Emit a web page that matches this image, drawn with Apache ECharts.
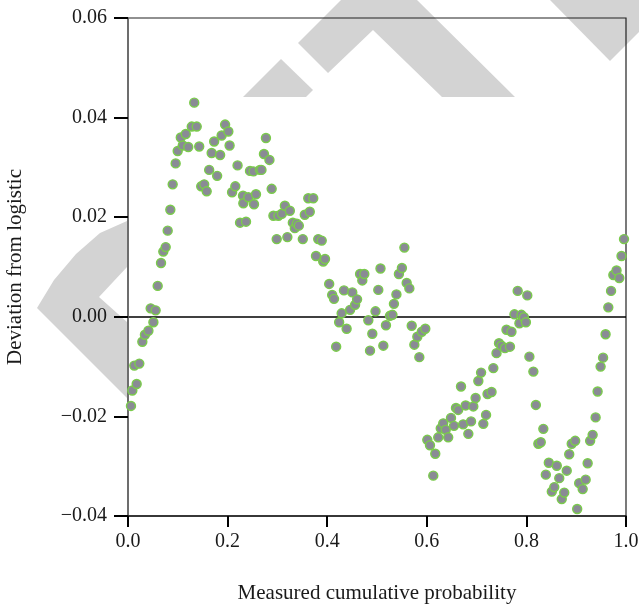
<!DOCTYPE html>
<html>
<head>
<meta charset="utf-8">
<script src="https://cdn.jsdelivr.net/npm/echarts@6/dist/echarts.min.js"></script>
<style>
  html, body { margin: 0; padding: 0; background: #fff; }
  #chart { width: 639px; height: 605px; }
</style>
</head>
<body>
<div id="chart"></div>
<script>
// measured cumulative probability (x) and deviation from logistic (y)
var probX = [
  0.006, 0.0087, 0.0127, 0.0174, 0.0227, 0.0288, 0.034, 0.041, 0.0455, 0.051,
  0.0555, 0.0596, 0.0663, 0.0709, 0.0757, 0.0797, 0.085, 0.0897, 0.0957, 0.0998,
  0.106, 0.110, 0.116, 0.121, 0.128, 0.133, 0.138, 0.143, 0.147, 0.153,
  0.158, 0.163, 0.168, 0.173, 0.179, 0.185, 0.188, 0.195, 0.2015, 0.204,
  0.209, 0.2155, 0.220, 0.225, 0.231, 0.2316, 0.237, 0.2416, 0.245, 0.252,
  0.253, 0.257, 0.265, 0.268, 0.273, 0.277, 0.284, 0.2885, 0.292, 0.2986,
  0.302, 0.309, 0.315, 0.320, 0.325, 0.331, 0.335, 0.339, 0.343, 0.351,
  0.355, 0.362, 0.365, 0.372, 0.3775, 0.382, 0.389, 0.392, 0.3956, 0.404,
  0.410, 0.4137, 0.418, 0.424, 0.429, 0.4337, 0.439, 0.446, 0.4504, 0.456,
  0.460, 0.466, 0.4705, 0.4745, 0.4826, 0.486, 0.4906, 0.497, 0.5026, 0.507,
  0.5127, 0.518, 0.526, 0.531, 0.534, 0.539, 0.544, 0.550, 0.555, 0.5596,
  0.565, 0.5697, 0.575, 0.581, 0.585, 0.590, 0.597, 0.601, 0.6064, 0.613,
  0.617, 0.623, 0.628, 0.633, 0.638, 0.643, 0.6486, 0.6546, 0.6586, 0.663,
  0.6687, 0.673, 0.678, 0.6834, 0.6888, 0.6934, 0.698, 0.7035, 0.709, 0.7135,
  0.719, 0.722, 0.730, 0.7336, 0.740, 0.745, 0.750, 0.757, 0.760, 0.767,
  0.770, 0.776, 0.7825, 0.786, 0.790, 0.795, 0.799, 0.8018, 0.806, 0.814,
  0.819, 0.824, 0.8288, 0.834, 0.839, 0.845, 0.851, 0.856, 0.861, 0.866,
  0.871, 0.876, 0.881, 0.886, 0.891, 0.898, 0.902, 0.906, 0.913, 0.919,
  0.923, 0.928, 0.933, 0.939, 0.943, 0.949, 0.954, 0.959, 0.9645, 0.970,
  0.9746, 0.981, 0.9865, 0.991, 0.996
];
var deviationY = [
  -0.0179, -0.0148, -0.0098, -0.0135, -0.0094, -0.0050, -0.0036, -0.0028, 0.0017, -0.0011,
  0.0013, 0.0062, 0.0108, 0.0131, 0.0140, 0.0173, 0.0215, 0.0266, 0.0308, 0.0333,
  0.0360, 0.0344, 0.0367, 0.0341, 0.0382, 0.0430, 0.0382, 0.0342, 0.0262, 0.0266,
  0.0252, 0.0295, 0.0329, 0.0352, 0.0283, 0.0325, 0.0364, 0.0386, 0.0372, 0.0344,
  0.0250, 0.0262, 0.0304, 0.0189, 0.0243, 0.0228, 0.0191, 0.0240, 0.0293, 0.0292,
  0.0226, 0.0246, 0.0295, 0.0295, 0.0327, 0.0359, 0.0315, 0.0257, 0.0203, 0.0156,
  0.0203, 0.0207, 0.0223, 0.0160, 0.0213, 0.0189, 0.0178, 0.0187, 0.0183, 0.0156,
  0.0205, 0.0238, 0.0211, 0.0238, 0.0122, 0.0156, 0.0153, 0.0111, 0.0116, 0.0066,
  0.0044, 0.0036, -0.0060, -0.0011, 0.0007, 0.0053, -0.0024, 0.0014, 0.0049, 0.0024,
  0.0035, 0.0086, 0.0073, 0.0086, -0.0007, -0.0068, -0.0034, 0.0011, 0.0054, 0.0097,
  -0.0058, -0.0017, 0.0002, 0.0004, 0.0026, 0.0045, 0.0086, 0.0098, 0.0139, 0.0068,
  0.0057, -0.0018, -0.0056, -0.0040, -0.0081, -0.0030, -0.0024, -0.0247, -0.0258, -0.0319,
  -0.0275, -0.0242, -0.0224, -0.0214, -0.0227, -0.0242, -0.0203, -0.0219, -0.0183, -0.0187,
  -0.0140, -0.0216, -0.0178, -0.0235, -0.0210, -0.0180, -0.0163, -0.0129, -0.0112, -0.0215,
  -0.0197, -0.0155, -0.0151, -0.0103, -0.0073, -0.0053, -0.0058, -0.0063, -0.0026, -0.0060,
  -0.0030, 0.0005, 0.0052, -0.0013, 0.0004, -0.0001, -0.0011, 0.0043, -0.0080, -0.0110,
  -0.0177, -0.0255, -0.0252, -0.0225, -0.0317, -0.0293, -0.0351, -0.0342, -0.0299, -0.0324,
  -0.0366, -0.0353, -0.0309, -0.0276, -0.0255, -0.0249, -0.0386, -0.0334, -0.0346, -0.0327,
  -0.0294, -0.0249, -0.0237, -0.0202, -0.0150, -0.0100, -0.0082, -0.0035, 0.0019, 0.0052,
  0.0084, 0.0093, 0.0078, 0.0122, 0.0156
];
var xTicks = [0, 0.2, 0.4, 0.6, 0.8, 1.0];
var yTicks = [-0.04, -0.02, 0, 0.02, 0.04, 0.06];

var points = probX.map(function (x, i) { return [x, deviationY[i]]; });

var serif = 'Liberation Serif';
var grey = '#d3d3d3';

var chartDom = document.getElementById('chart');
var myChart = echarts.init(chartDom, null, { renderer: 'canvas' });
var option;

option = {
  backgroundColor: '#fff',
  animation: false,
  textStyle: { fontFamily: serif },
  // light grey watermark shapes behind the plot
  graphic: {
    elements: [
      {
        type: 'polygon', z: -1, silent: true,
        shape: { points: [[243, 97], [281, 59], [313, 90], [306, 97]] },
        style: { fill: grey }
      },
      {
        type: 'polygon', z: -1, silent: true,
        shape: { points: [[298, 43], [341, 0], [417, 0], [515, 97], [442, 97], [373, 30], [328, 73]] },
        style: { fill: grey }
      },
      {
        type: 'polygon', z: -1, silent: true,
        shape: { points: [[550, 0], [610, 61], [639, 32], [639, 0]] },
        style: { fill: grey }
      },
      {
        type: 'polygon', z: -1, silent: true,
        shape: { points: [[127, 221], [100, 233], [76, 254], [54, 280], [37, 308], [127, 398], [127, 322], [99, 297], [127, 267]] },
        style: { fill: grey }
      }
    ]
  },
  grid: {
    left: 128, right: 13, top: 18, bottom: 89,
    containLabel: false,
    outerBoundsMode: 'none',
    show: true,
    borderColor: '#222',
    borderWidth: 1.2,
    backgroundColor: 'transparent'
  },
  xAxis: {
    type: 'value',
    min: 0, max: 1, interval: 0.2,
    name: 'Measured cumulative probability',
    nameLocation: 'middle',
    nameGap: 67,
    nameTextStyle: { fontFamily: serif, fontSize: 21, color: '#1a1a1a' },
    axisLine: { onZero: false, lineStyle: { color: '#1a1a1a', width: 1.5 } },
    axisTick: { inside: false, length: 11, lineStyle: { color: '#000', width: 2 } },
    axisLabel: {
      margin: 16, fontFamily: serif, fontSize: 20, color: '#1a1a1a',
      formatter: function (v) { return v.toFixed(1); },
      customValues: xTicks
    },
    splitLine: { show: false }
  },
  yAxis: {
    type: 'value',
    min: -0.04, max: 0.06, interval: 0.02,
    name: 'Deviation from logistic',
    nameLocation: 'middle',
    nameGap: 102,
    nameTextStyle: { fontFamily: serif, fontSize: 21, color: '#1a1a1a' },
    axisLine: { onZero: false, lineStyle: { color: '#6a6a6a', width: 1.5 } },
    axisTick: { inside: false, length: 14, lineStyle: { color: '#000', width: 2 } },
    axisLabel: {
      margin: 21, fontFamily: serif, fontSize: 20, color: '#1a1a1a',
      formatter: function (v) {
        return (v < -1e-9 ? '\u2212' : '') + Math.abs(v).toFixed(2);
      },
      customValues: yTicks
    },
    splitLine: {
      show: true,
      lineStyle: {
        color: ['transparent', 'transparent', '#000', 'transparent', 'transparent', 'transparent'],
        width: 1.5
      }
    }
  },
  series: [
    {
      name: 'deviation',
      type: 'scatter',
      symbol: 'circle',
      symbolSize: 9,
      itemStyle: {
        color: '#8a8b95',
        borderColor: '#7acb4b',
        borderWidth: 1.4,
        opacity: 1
      },
      data: points
    }
  ]
};

option && myChart.setOption(option);
</script>
</body>
</html>
